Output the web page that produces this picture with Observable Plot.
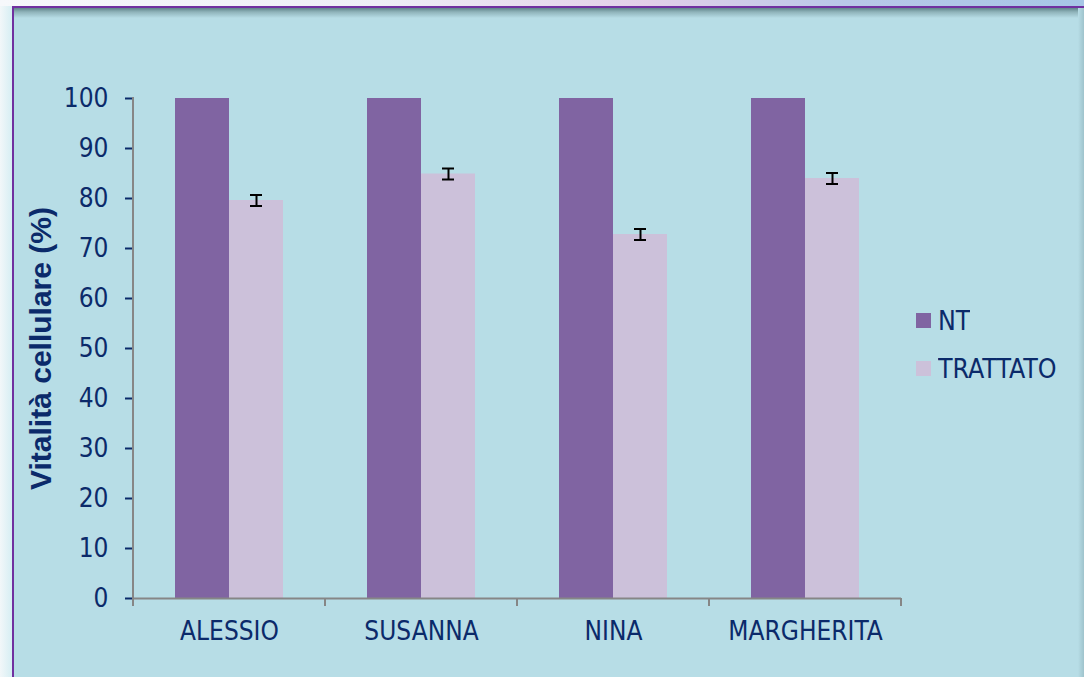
<!DOCTYPE html>
<html>
<head>
<meta charset="utf-8">
<script src="https://cdn.jsdelivr.net/npm/d3@7"></script>
<script src="https://cdn.jsdelivr.net/npm/@observablehq/plot@0.6"></script>
<style>
  html, body { margin: 0; padding: 0; background: #ffffff; }
  #wrap { position: relative; width: 1084px; height: 677px; overflow: hidden; background: #b7dde6; }
  #topband { position: absolute; left: 0; top: 0; width: 1084px; height: 6px;
    background: linear-gradient(90deg, #f6f8fb 0%, #eeeef6 35%, #e2cfe8 60%, #b9c8e8 78%, #a6c6e6 100%); }
  #leftband { position: absolute; left: 0; top: 6px; width: 12px; height: 671px;
    background: linear-gradient(90deg, #f2f7f9 0%, #d6eef3 100%); }
  #topline { position: absolute; left: 12px; top: 6px; width: 1072px; height: 2px; background: #7030a0; }
  #leftline { position: absolute; left: 12px; top: 6px; width: 2px; height: 671px; background: #7030a0; }
  #shadow { position: absolute; left: 14px; top: 8px; width: 1070px; height: 10px;
    background: linear-gradient(180deg, #5f848a 0%, #8fb3ba 40%, #b7dde6 100%); }
  #rshadow { position: absolute; left: 1078px; top: 8px; width: 6px; height: 669px;
    background: linear-gradient(90deg, #b7dde6 0%, #9fc3cc 100%); }
  #chart { position: absolute; left: 0; top: 0; }
  #legend { position: absolute; left: 916px; top: 296px; }
  #legend .leg-swatch { height: 48px !important; display: flex !important; align-items: center !important;
    font-family: "DejaVu Sans Condensed", "DejaVu Sans", sans-serif !important; font-size: 26.5px !important;
    color: #0b2a6a !important; margin: 0 !important; padding: 0 !important; }
  #legend .leg-swatch svg { margin-right: 7px !important; }
  #legend .leg-swatches, #legend > div { font-family: "DejaVu Sans Condensed", "DejaVu Sans", sans-serif !important;
    font-size: 26.5px !important; color: #0b2a6a !important; margin: 0 !important; min-height: 0 !important; }
  #chart g[aria-label="y-axis tick"] { stroke: #868686; stroke-width: 2px; }
  #chart g[aria-label="y-axis label"] text, #chart g[aria-label="y-axis label"] {
    font-family: "Liberation Sans", Arial, sans-serif; font-weight: bold; font-size: 30px; }
</style>
</head>
<body>
<div id="wrap">
  <div id="topband"></div>
  <div id="leftband"></div>
  <div id="shadow"></div>
  <div id="rshadow"></div>
  <div id="topline"></div>
  <div id="leftline"></div>
  <div id="chart"></div>
  <div id="legend"></div>
</div>
<script>
const categories = ["ALESSIO", "SUSANNA", "NINA", "MARGHERITA"];
const series = ["NT", "TRATTATO"];
const ntValues = [100, 100, 100, 100];
const trattatoValues = [79.6, 84.9, 72.8, 84.0];
const trattatoErrors = [1.1, 1.1, 1.1, 1.1];
const yTicks = [0, 10, 20, 30, 40, 50, 60, 70, 80, 90, 100];
const seriesColors = ["#8064a2", "#ccc1da"];
const yLabel = "Vitalità cellulare (%)";

const rows = [];
categories.forEach((c, i) => {
  rows.push({cat: c, series: "NT", value: ntValues[i], err: 0});
  rows.push({cat: c, series: "TRATTATO", value: trattatoValues[i], err: trattatoErrors[i]});
});

const axisGray = "#868686";
const textNavy = "#0b2a6a";

const chart = Plot.plot({
  width: 1084,
  height: 677,
  marginLeft: 133,
  marginRight: 183,
  marginTop: 98,
  marginBottom: 79,
  style: {
    background: "transparent",
    fontFamily: "'DejaVu Sans Condensed', 'DejaVu Sans', sans-serif",
    fontSize: "26px",
    color: textNavy,
    overflow: "visible"
  },
  facet: {data: rows, x: "cat"},
  fx: {domain: categories, padding: 0, axis: "bottom", tickSize: 0, tickPadding: 23, label: null},
  x: {domain: series, paddingInner: 0, paddingOuter: 0.76, axis: null},
  y: {domain: [0, 100], ticks: yTicks, tickSize: 8, tickPadding: 17,
      label: yLabel, labelAnchor: "center", labelOffset: 104, labelArrow: "none"},
  color: {domain: series, range: seriesColors},
  marks: [
    Plot.barY(rows, {x: "series", y: "value", fill: "series"}),
    Plot.ruleX(rows, {filter: d => d.err > 0, x: "series",
      y1: d => d.value - d.err, y2: d => d.value + d.err, stroke: "#000", strokeWidth: 2}),
    Plot.tickY(rows, {filter: d => d.err > 0, x: "series", y: d => d.value + d.err,
      stroke: "#000", strokeWidth: 2, inset: 21}),
    Plot.tickY(rows, {filter: d => d.err > 0, x: "series", y: d => d.value - d.err,
      stroke: "#000", strokeWidth: 2, inset: 21}),
    Plot.ruleY([0], {stroke: axisGray, strokeWidth: 2})
  ]
});
document.getElementById("chart").appendChild(chart);

// Axis line and category-boundary ticks placed with the plot's own scales
const fx = chart.scale("fx");
const y = chart.scale("y");
const svg = d3.select(chart);
const x0 = fx.apply(categories[0]);
const g = svg.append("g").attr("stroke", axisGray).attr("stroke-width", 2);
g.append("line").attr("x1", x0).attr("x2", x0).attr("y1", y.apply(100) - 1).attr("y2", y.apply(0) + 8);
const bounds = categories.map(c => fx.apply(c)).concat([fx.apply(categories[categories.length - 1]) + fx.bandwidth]);
bounds.forEach(b => {
  g.append("line").attr("x1", b).attr("x2", b).attr("y1", y.apply(0)).attr("y2", y.apply(0) + 8);
});

const legend = Plot.legend({
  color: {domain: series, range: seriesColors},
  legend: "swatches",
  columns: 1,
  swatchSize: 15,
  className: "leg"
});
document.getElementById("legend").appendChild(legend);
</script>
</body>
</html>
